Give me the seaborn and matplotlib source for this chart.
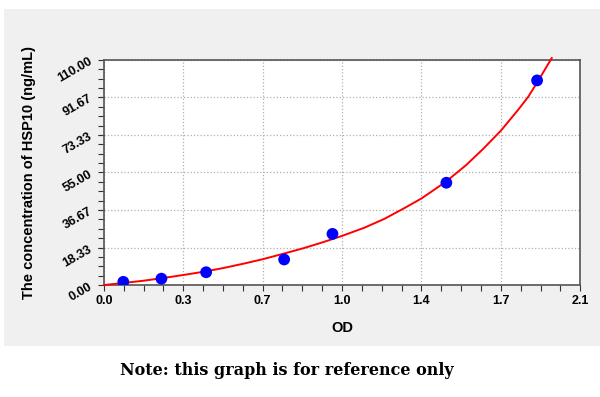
import numpy as np
import pandas as pd
import matplotlib
matplotlib.use("Agg")
import matplotlib.pyplot as plt
import seaborn as sns
from matplotlib.patches import Rectangle
from matplotlib.ticker import MultipleLocator

# standard points (OD vs concentration)
od_values = [0.086, 0.254, 0.451, 0.795, 1.008, 1.510, 1.910]
conc_values = [1.56, 3.12, 6.25, 12.5, 25.0, 50.0, 100.0]

# fitted curve
curve_od = [0.0, 0.087, 0.174, 0.26, 0.35, 0.44, 0.526, 0.61, 0.70, 0.788, 0.877, 0.965,
            1.05, 1.148, 1.236, 1.325, 1.40, 1.508, 1.597, 1.671, 1.75, 1.827, 1.871, 1.913, 1.975]
curve_conc = [0.0, 1.0, 2.1, 3.4, 4.9, 6.5, 8.3, 10.3, 12.6, 15.2, 17.9, 20.9,
              24.0, 28.0, 32.3, 37.6, 42.3, 50.5, 58.6, 66.4, 75.4, 85.7, 92.0, 99.5, 111.0]

x_ticks = [0.0, 0.35, 0.70, 1.05, 1.40, 1.75, 2.10]
x_tick_labels = ["0.0", "0.3", "0.7", "1.0", "1.4", "1.7", "2.1"]
y_ticks = [0.0, 18.33, 36.67, 55.0, 73.33, 91.67, 110.0]
y_tick_labels = ["0.00", "18.33", "36.67", "55.00", "73.33", "91.67", "110.00"]

points = pd.DataFrame({"OD": od_values, "conc": conc_values})
curve = pd.DataFrame({"OD": curve_od, "conc": curve_conc})

sns.set_style("white")
plt.rcParams["font.family"] = ["Liberation Sans", "DejaVu Sans"]
plt.rcParams["text.color"] = "black"
plt.rcParams["axes.labelcolor"] = "black"
plt.rcParams["xtick.color"] = "black"
plt.rcParams["ytick.color"] = "black"

fig = plt.figure(figsize=(6, 3.97), dpi=100)
fig.patch.set_facecolor("white")
fig.patches.append(Rectangle((4 / 600, 0.129), 1 - 4 / 600, 0.848, transform=fig.transFigure,
                             facecolor="#f0f0f0", edgecolor="none", zorder=-5))

ax = fig.add_axes([0.173, 0.282, 0.794, 0.567])
ax.set_facecolor("white")

sns.lineplot(data=curve, x="OD", y="conc", ax=ax, color="red", linewidth=1.4,
             sort=False, estimator=None, clip_on=False, zorder=3)
sns.scatterplot(data=points, x="OD", y="conc", ax=ax, color="#0000ff", s=72,
                edgecolor="none", zorder=4)

ax.set_xlim(0, 2.1)
ax.set_ylim(0, 110)
ax.set_xticks(x_ticks)
ax.set_xticklabels(x_tick_labels, fontsize=9, fontweight="bold")
ax.set_yticks(y_ticks)
ax.set_yticklabels(y_tick_labels, fontsize=9, fontweight="bold", rotation=30)
ax.xaxis.set_minor_locator(MultipleLocator(0.0875))
ax.yaxis.set_minor_locator(MultipleLocator(110 / 24))
ax.tick_params(which="both", direction="out", length=4, width=0.8, color="#333333",
               bottom=True, left=True, top=False, right=False, pad=3)

ax.grid(True, which="major", linestyle=":", color="#b0b0b0", linewidth=0.9)
for sp in ax.spines.values():
    sp.set_color("#555555")
    sp.set_linewidth(1.2)

ax.set_xlabel("OD", fontsize=10.5, fontweight="bold", labelpad=10)
ax.set_ylabel("The concentration of HSP10 (ng/mL)", fontsize=10.5, fontweight="bold", labelpad=14)

fig.text(0.478, 0.068, "Note: this graph is for reference only", ha="center", va="center",
         fontsize=11.5, fontweight="bold", family=["DejaVu Serif"], color="black")

fig.savefig("out.png", dpi=100)
